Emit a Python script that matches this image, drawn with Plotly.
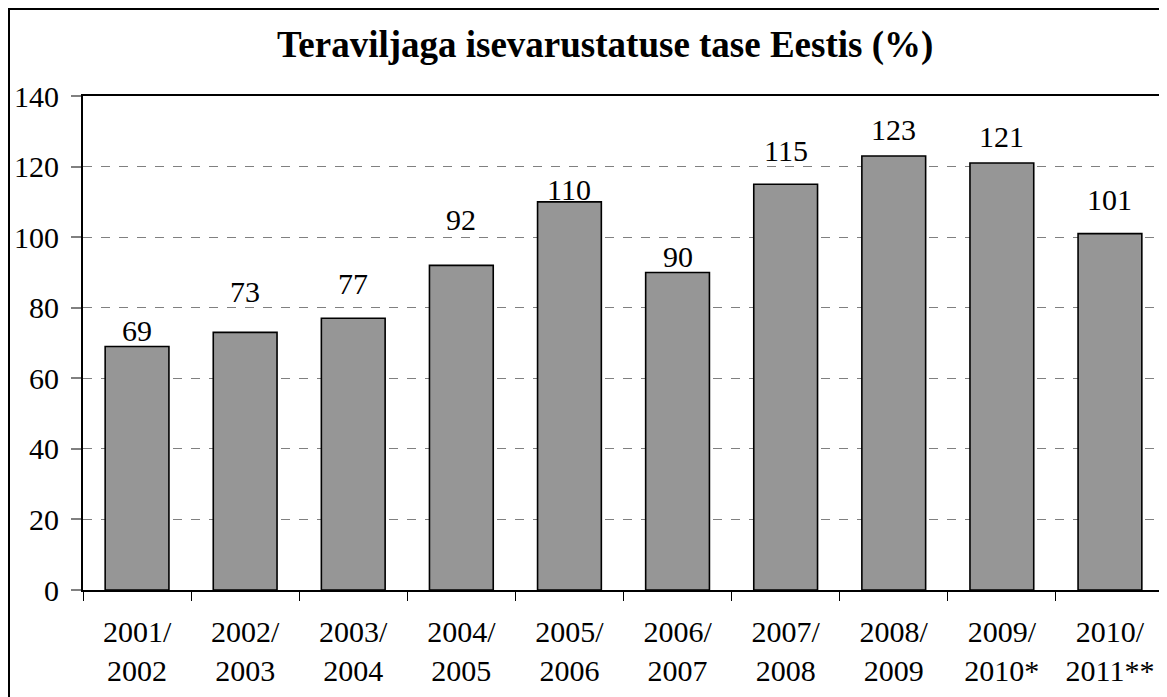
import plotly.graph_objects as go

categories = ["2001/<br>2002", "2002/<br>2003", "2003/<br>2004", "2004/<br>2005", "2005/<br>2006",
              "2006/<br>2007", "2007/<br>2008", "2008/<br>2009", "2009/<br>2010*", "2010/<br>2011**"]
values = [69, 73, 77, 92, 110, 90, 115, 123, 121, 101]
y_ticks = [0, 20, 40, 60, 80, 100, 120, 140]
title_text = "Teraviljaga isevarustatuse tase Eestis (%)"
corner_text = "Joonis 1"

# style: pixel gap between each value label's baseline and its bar top (as placed in the original)
label_gap_px = [4, 28, 22, 33, 0, 3, 21, 14, 14, 22]

FONT = "Liberation Serif, Times New Roman, serif"
W, H = 1167, 697
OFF = 8  # page body offset
# desired screen positions of the plot area
SX0, SX1, SY0, SY1 = 83, 1164, 96, 590
ML = SX0 - OFF
MT = SY0 - OFF
MR = W - (SX1 - OFF)
MB = H - (SY1 - OFF)
PW = SX1 - SX0
PH = SY1 - SY0
DESCENT = 5  # approx. distance from text-box bottom to baseline at this size


def px_x(x):
    return (x - SX0) / PW


def px_y(y):
    return (SY1 - y) / PH


fig = go.Figure(go.Bar(
    x=categories,
    y=values,
    width=0.59,
    marker=dict(color="#969696", line=dict(color="black", width=1.6)),
    cliponaxis=False,
))

annotations = [
    dict(text="<b>" + title_text + "</b>", x=px_x(605), y=px_y(45), xref="paper", yref="paper",
         xanchor="center", yanchor="middle", showarrow=False,
         font=dict(family=FONT, size=37, color="black")),
    dict(text=corner_text, x=px_x(1167), y=px_y(6), xref="paper", yref="paper",
         xanchor="right", yanchor="bottom", showarrow=False,
         font=dict(family=FONT, size=22, color="black")),
]
for c, v, g in zip(categories, values, label_gap_px):
    annotations.append(dict(
        text=str(v), x=c, y=v, xref="x", yref="y",
        xanchor="center", yanchor="bottom", yshift=g - DESCENT,
        showarrow=False, borderpad=0,
        font=dict(family=FONT, size=30, color="black"),
    ))

fig.update_layout(
    template="none",
    width=W, height=H,
    margin=dict(l=ML, r=MR, t=MT, b=MB, autoexpand=False),
    paper_bgcolor="white",
    plot_bgcolor="white",
    showlegend=False,
    font=dict(family=FONT, color="black"),
    annotations=annotations,
    shapes=[
        dict(type="rect", xref="paper", yref="paper",
             x0=px_x(9), x1=px_x(1200), y0=px_y(730), y1=px_y(9),
             line=dict(color="black", width=2), fillcolor="rgba(0,0,0,0)", layer="below"),
    ],
)

fig.update_xaxes(
    type="category",
    automargin=False,
    showline=True, linecolor="black", linewidth=2, mirror=True,
    ticks="outside", tickson="boundaries", ticklen=9, tickcolor="black", tickwidth=1,
    tickfont=dict(family=FONT, size=30, color="black"),
    ticklabelstandoff=14,
    showgrid=False,
)

fig.update_yaxes(
    range=[0, 140],
    automargin=False,
    tickvals=y_ticks,
    ticktext=[str(t) for t in y_ticks],
    showline=True, linecolor="black", linewidth=2, mirror=True,
    ticks="outside", ticklen=10, tickcolor="#808080", tickwidth=2,
    tickfont=dict(family=FONT, size=30, color="black"),
    ticklabelstandoff=6,
    showgrid=True, gridcolor="#808080", gridwidth=1, griddash="dash",
    zeroline=False,
)

fig.write_html("out.html")
